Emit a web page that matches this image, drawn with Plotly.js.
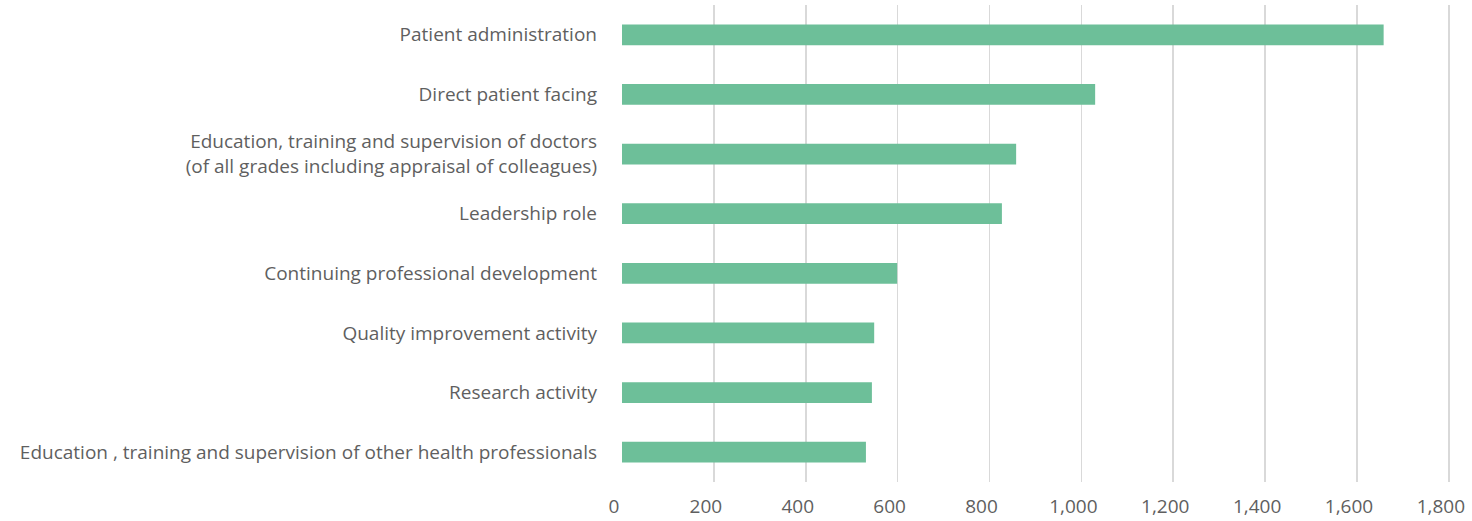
<!DOCTYPE html>
<html>
<head>
<meta charset="utf-8">
<script src="https://cdn.plot.ly/plotly-3.0.1.min.js"></script>
<style>html,body{margin:0;padding:0;background:#fff;}#chart{width:1472px;height:521px;}</style>
</head>
<body>
<div id="chart"></div>
<script>
var categories = [
  "Patient administration",
  "Direct patient facing",
  "Education, training and supervision of doctors<br>(of all grades including appraisal of colleagues)",
  "Leadership role",
  "Continuing professional development",
  "Quality improvement activity",
  "Research activity",
  "Education , training and supervision of other health professionals"
];
var values = [1658, 1030, 858, 827, 599, 549, 544, 531];
var tickVals = [0, 200, 400, 600, 800, 1000, 1200, 1400, 1600, 1800];

var trace = {
  type: 'bar',
  orientation: 'h',
  y: categories,
  x: values,
  marker: {color: '#6dbf99'},
  hoverinfo: 'x+y'
};

var layout = {
  width: 1472,
  height: 521,
  margin: {l: 622, r: 19, t: 5, b: 39},
  paper_bgcolor: '#ffffff',
  plot_bgcolor: '#ffffff',
  bargap: 0.653,
  showlegend: false,
  font: {family: '"Open Sans", sans-serif', size: 19, color: '#5f5f5f'},
  xaxis: {
    range: [0, 1809],
    tickvals: tickVals,
    tickformat: ',d',
    showgrid: true,
    gridcolor: '#d9d9d9',
    gridwidth: 1.5,
    zeroline: false,
    showline: false,
    ticks: '',
    ticklabelstandoff: 11,
    ticklabelshift: -8,
    ticklabeloverflow: 'allow',
    tickfont: {size: 19, color: '#5f5f5f'}
  },
  yaxis: {
    autorange: 'reversed',
    type: 'category',
    showgrid: false,
    zeroline: false,
    showline: false,
    ticks: '',
    ticklabelstandoff: 24,
    tickfont: {size: 19, color: '#5f5f5f'}
  }
};

Plotly.newPlot('chart', [trace], layout, {displayModeBar: false, staticPlot: true});
</script>
</body>
</html>
